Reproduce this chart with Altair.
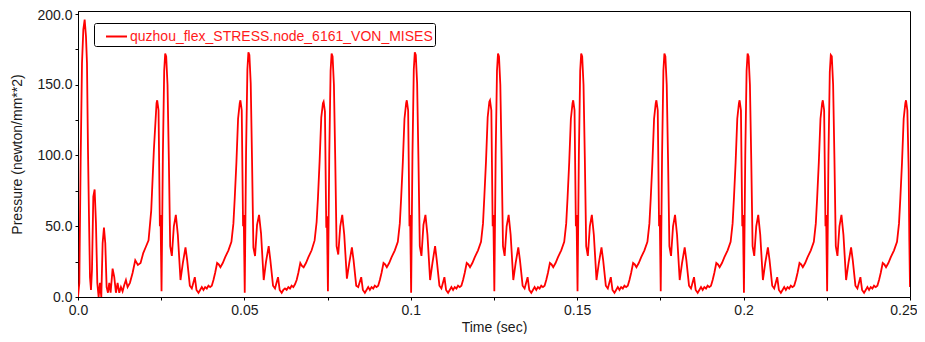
import altair as alt
import pandas as pd

SERIES = "quzhou_flex_STRESS.node_6161_VON_MISES"

# Start-up transient (absolute time, s) and stress values
init_t = [0.0, 0.0004, 0.0008, 0.0012, 0.0016, 0.0020, 0.0024, 0.0027, 0.0030, 0.0033,
          0.0036, 0.0039, 0.0042, 0.0046, 0.0050, 0.0054, 0.0058, 0.0062, 0.0066, 0.0070,
          0.0074, 0.0078, 0.0082, 0.0086, 0.0090, 0.0094, 0.0098, 0.0104, 0.0109, 0.0114,
          0.0119, 0.0124, 0.0129, 0.0134, 0.0139, 0.0144, 0.0149, 0.0156, 0.0164, 0.0172,
          0.0180, 0.0188, 0.0196, 0.0204, 0.0212, 0.0220, 0.0228, 0.0236, 0.0238, 0.0242]
init_v = [0, 10, 97, 165, 189, 196, 184, 165, 104, 57,
          14, 5, 19, 71, 76, 52, 10, 0, 10, 0,
          38, 49, 38, 7, 3, 10, 3, 20, 14, 3,
          10, 3, 7, 4, 8.5, 12, 7, 10, 17, 26,
          22.6, 24, 31, 35.5, 40, 61, 104, 137, 139, 132]

# Cycle start times and time within each cycle (s)
cycle_starts = [0.025, 0.05, 0.075, 0.1, 0.125, 0.15, 0.175, 0.2, 0.225]
cycle_tau = [-0.0004, -0.0002, 0.0001, 0.0005, 0.0009, 0.0012, 0.0015, 0.0019, 0.0023, 0.0027,
             0.0032, 0.0038, 0.0044, 0.0050, 0.0058, 0.0065, 0.0073, 0.0078, 0.0086, 0.0092,
             0.0101, 0.0106, 0.0112, 0.0117, 0.0122, 0.0127, 0.0132, 0.0137, 0.0142, 0.0147,
             0.0152, 0.0157, 0.0162, 0.0168, 0.0173, 0.0178, 0.0185, 0.0192, 0.0202, 0.0211,
             0.0217, 0.0221, 0.0226, 0.0231, 0.0236, 0.0238, 0.0242]
cycle_values = [
    [50, 58, 4, 100, 160, 172, 170, 150, 97, 36, 29, 50, 58, 44, 12, 24, 35, 26, 8, 6, 14, 5, 3, 5, 7, 5, 7, 6, 8, 7, 8, 12, 17, 24, 23, 21, 24, 28, 33, 39, 52, 70, 95, 126, 137, 139, 132],
    [50, 58, 3, 102, 161, 173, 171, 151, 96, 35, 29, 51, 58, 45, 12, 25, 36, 26, 8, 6, 14, 5, 3, 5, 6, 5, 7, 6, 8, 7, 9, 12, 17, 24, 22, 21, 24, 28, 33, 40, 53, 70, 96, 127, 137, 138, 131],
    [49, 57, 4, 100, 160, 172, 170, 150, 97, 36, 30, 50, 58, 44, 13, 24, 35, 26, 8, 7, 14, 5, 3, 5, 7, 5, 7, 6, 8, 7, 8, 12, 17, 24, 23, 21, 24, 28, 33, 39, 52, 70, 95, 126, 137, 139, 132],
    [50, 58, 3, 101, 161, 173, 171, 151, 97, 36, 29, 51, 58, 44, 12, 24, 36, 26, 8, 6, 14, 5, 3, 5, 7, 5, 7, 6, 8, 7, 8, 12, 17, 24, 23, 21, 24, 28, 33, 39, 52, 71, 96, 127, 138, 139, 132],
    [50, 58, 4, 100, 160, 172, 170, 150, 97, 36, 29, 50, 58, 44, 12, 24, 35, 26, 8, 6, 14, 5, 3, 5, 7, 5, 7, 6, 8, 7, 8, 12, 17, 24, 23, 21, 24, 28, 33, 39, 52, 70, 95, 126, 137, 139, 132],
    [50, 58, 4, 100, 160, 172, 170, 150, 97, 36, 29, 50, 58, 44, 12, 24, 35, 26, 8, 6, 14, 5, 3, 5, 7, 5, 7, 6, 8, 7, 8, 12, 17, 24, 23, 21, 24, 28, 33, 39, 52, 70, 95, 126, 137, 139, 132],
    [50, 58, 4, 100, 160, 172, 170, 150, 97, 36, 29, 50, 58, 44, 12, 24, 35, 26, 8, 6, 14, 5, 3, 5, 7, 5, 7, 6, 8, 7, 8, 12, 17, 24, 23, 21, 24, 28, 33, 39, 52, 70, 95, 126, 137, 139, 132],
    [50, 58, 3, 100, 160, 172, 170, 150, 97, 36, 29, 50, 58, 44, 12, 24, 35, 26, 8, 6, 14, 5, 3, 5, 7, 5, 7, 6, 8, 7, 8, 12, 17, 24, 23, 21, 24, 28, 33, 39, 52, 70, 95, 126, 137, 139, 132],
    [50, 58, 4, 100, 159, 171, 170, 150, 97, 36, 29, 50, 58, 44, 12, 24, 35, 26, 8, 6, 14, 5, 3, 5, 7, 5, 7, 6, 8, 7, 8, 12, 17, 24, 23, 21, 24, 28, 33, 39, 52, 70, 95, 126, 137, 139, 132],
]
# Final drop at the end of the record
end_t = [0.2496, 0.2498, 0.25]
end_v = [90, 40, 7]

x_ticks = [0.0, 0.025, 0.05, 0.075, 0.1, 0.125, 0.15, 0.175, 0.2, 0.225, 0.25]
x_labels = ["0.0", "", "0.05", "", "0.1", "", "0.15", "", "0.2", "", "0.25"]
y_ticks = [0, 25, 50, 75, 100, 125, 150, 175, 200]
y_labels = ["0.0", "", "50.0", "", "100.0", "", "150.0", "", "200.0"]

rows = [(t, v) for t, v in zip(init_t, init_v)]
for start, vals in zip(cycle_starts, cycle_values):
    rows += [(start + tau, v) for tau, v in zip(cycle_tau, vals)]
rows += [(t, v) for t, v in zip(end_t, end_v)]
df = pd.DataFrame(rows, columns=["t", "v"])
df["series"] = SERIES

FONT = "Liberation Sans"

def label_expr(labels, step):
    arr = "[" + ",".join("'%s'" % s for s in labels) + "]"
    return "%s[round(datum.value/%s)]" % (arr, step)

last_x = "datum.value >= 0.249"
top_y = "datum.value >= 199"

chart = alt.Chart(df).mark_line(strokeWidth=1.8, clip=True).encode(
    x=alt.X("t:Q", title="Time (sec)",
            scale=alt.Scale(domain=[0, 0.25], nice=False, zero=False),
            axis=alt.Axis(values=x_ticks, labelExpr=label_expr(x_labels, 0.025),
                          grid=False, tickSize=3, labelPadding=3, titlePadding=3,
                          labelFlush=False,
                          labelAlign={"condition": {"test": last_x, "value": "right"},
                                      "value": "center"},
                          labelOffset={"condition": {"test": last_x, "value": 7},
                                       "value": 0})),
    y=alt.Y("v:Q", title="Pressure (newton/mm**2)",
            scale=alt.Scale(domain=[0, 202.1], nice=False),
            axis=alt.Axis(values=y_ticks, labelExpr=label_expr(y_labels, 25),
                          grid=False, tickSize=3, labelPadding=3, titlePadding=12,
                          labelFlush=False,
                          labelOffset={"condition": {"test": top_y, "value": 2},
                                       "value": 0})),
    color=alt.Color("series:N", scale=alt.Scale(range=["#ff0000"]),
                    legend=alt.Legend(title=None, orient="none", legendX=16, legendY=12,
                                      symbolType="stroke", symbolSize=441,
                                      symbolStrokeWidth=2, symbolOffset=9,
                                      labelColor="#ff1a1a", labelFontSize=14,
                                      labelFont=FONT, labelLimit=600, labelOffset=2,
                                      padding=2, strokeColor="#000000", fillColor="white",
                                      cornerRadius=2)),
).properties(
    width=832, height=286,
    autosize=alt.AutoSizeParams(type="none"),
    padding={"left": 70, "top": 3, "right": 7, "bottom": 37},
).configure_view(
    stroke="#000000", strokeWidth=1
).configure_axis(
    labelFont=FONT, titleFont=FONT, labelFontSize=14, titleFontSize=14,
    titleFontWeight="normal", labelColor="#1a1a1a", titleColor="#1a1a1a",
    domainColor="#000000", tickColor="#000000"
)

chart.save("out.html", embed_options={"renderer": "svg", "actions": False})
